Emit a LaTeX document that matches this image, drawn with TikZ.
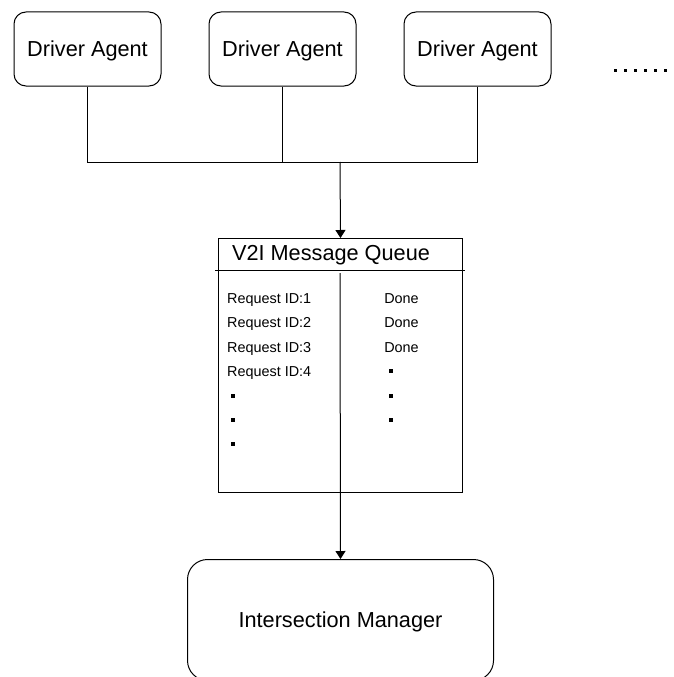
\documentclass[tikz,border=0pt]{standalone}
\usepackage{fontspec}
\setmainfont{Liberation Sans}
\usetikzlibrary{arrows.meta}
\begin{document}
\begin{tikzpicture}[x=1pt,y=-1pt,line width=1pt,
  bigfont/.style={font=\fontsize{21.7}{26}\selectfont},
  smallfont/.style={font=\fontsize{14.4}{17}\selectfont},
  agent/.style={draw, rounded corners=12pt, minimum width=147pt, minimum height=74pt,
    inner sep=0pt, bigfont, text height=15.5pt, text depth=0pt},
  manager/.style={draw, rounded corners=20pt, minimum width=306pt, minimum height=121pt,
    inner sep=0pt, bigfont, text height=15.5pt, text depth=0pt, anchor=north west},
  queuebox/.style={draw, minimum width=244pt, minimum height=254pt, inner sep=0pt, anchor=north west},
  arr/.style={-{Triangle[length=8pt,width=10pt]}},
  itemtext/.style={smallfont, inner sep=0pt},
  sq/.style={fill=black, draw=none, minimum size=4.3pt, inner sep=0pt},
  dot/.style={fill=black, draw=none, minimum size=3pt, inner sep=0pt}
]
\useasboundingbox (0,0) rectangle (673,677);

% driver agents
\node[agent] (d1) at (87.5,49) {Driver Agent};
\node[agent] (d2) at (282.5,49) {Driver Agent};
\node[agent] (d3) at (477.5,49) {Driver Agent};

% ellipsis
\foreach \i in {0,...,5} {
  \node[dot] (e\i) at (615.7+10*\i,70.3) {};
}

% queue
\node[queuebox] (q) at (218,238) {};
\node[bigfont, inner sep=0pt, anchor=base] (qt) at (331,260.5) {V2I Message Queue};
\coordinate (hl) at (215,270);
\coordinate (hr) at (465,270);
\draw (hl) -- (hr);

% queue items
\node[itemtext, anchor=base west] (r1) at (226.7,303) {Request ID:1};
\node[itemtext, anchor=base west] (r2) at (226.7,327.5) {Request ID:2};
\node[itemtext, anchor=base west] (r3) at (226.7,352) {Request ID:3};
\node[itemtext, anchor=base west] (r4) at (226.7,376.5) {Request ID:4};
\node[itemtext, anchor=base] (s1) at (401.5,303) {Done};
\node[itemtext, anchor=base] (s2) at (401.5,327.5) {Done};
\node[itemtext, anchor=base] (s3) at (401.5,352) {Done};
\node[sq] (lb1) at (233,396) {};
\node[sq] (lb2) at (233,420) {};
\node[sq] (lb3) at (233,444) {};
\node[sq] (rb1) at (391,371) {};
\node[sq] (rb2) at (391,396) {};
\node[sq] (rb3) at (391,420) {};

% intersection manager
\node[manager] (m) at (187,559) {Intersection Manager};

% connectors
\coordinate (j) at (340,162);
\draw (d1.south) |- (j);
\draw (d2.south) -- (d2.south |- j);
\draw (d3.south) |- (j);
\draw[arr] (j) -- (q.north);
\coordinate (dv) at (340,273);
\draw[arr] (dv) -- (m.north);
\end{tikzpicture}
\end{document}
